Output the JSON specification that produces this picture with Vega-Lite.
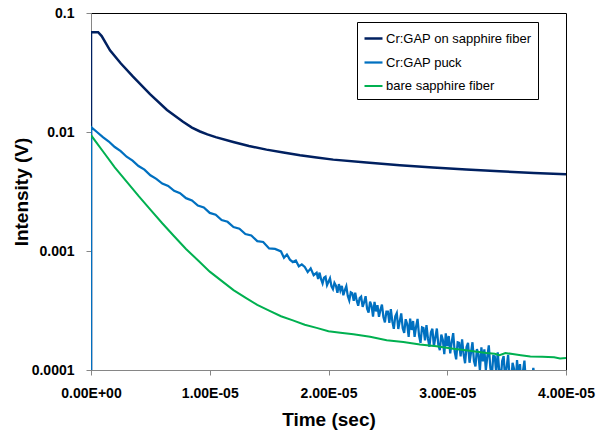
{
  "$schema": "https://vega.github.io/schema/vega-lite/v6.json",
  "width": 475,
  "height": 357,
  "autosize": {"type": "none"},
  "padding": {"left": 91, "top": 13, "right": 39, "bottom": 63},
  "background": "white",
  "view": {"stroke": "#000000", "strokeWidth": 1},
  "config": {"font": "Liberation Sans"},
  "data": {"values": [
    {"s": "Cr:GAP on sapphire fiber", "t": 0, "v": 0.00005},
    {"s": "Cr:GAP on sapphire fiber", "t": 0, "v": 0.069},
    {"s": "Cr:GAP on sapphire fiber", "t": 6e-7, "v": 0.069},
    {"s": "Cr:GAP on sapphire fiber", "t": 9e-7, "v": 0.064},
    {"s": "Cr:GAP on sapphire fiber", "t": 1.6e-6, "v": 0.0486},
    {"s": "Cr:GAP on sapphire fiber", "t": 2.5e-6, "v": 0.0378},
    {"s": "Cr:GAP on sapphire fiber", "t": 3.54e-6, "v": 0.0292},
    {"s": "Cr:GAP on sapphire fiber", "t": 4.97e-6, "v": 0.0208},
    {"s": "Cr:GAP on sapphire fiber", "t": 6.4e-6, "v": 0.0153},
    {"s": "Cr:GAP on sapphire fiber", "t": 7.75e-6, "v": 0.0122},
    {"s": "Cr:GAP on sapphire fiber", "t": 8.5e-6, "v": 0.0109},
    {"s": "Cr:GAP on sapphire fiber", "t": 9.18e-6, "v": 0.0101},
    {"s": "Cr:GAP on sapphire fiber", "t": 9.8e-6, "v": 0.00955},
    {"s": "Cr:GAP on sapphire fiber", "t": 1.05e-5, "v": 0.00906},
    {"s": "Cr:GAP on sapphire fiber", "t": 1.198e-5, "v": 0.00824},
    {"s": "Cr:GAP on sapphire fiber", "t": 1.33e-5, "v": 0.00762},
    {"s": "Cr:GAP on sapphire fiber", "t": 1.478e-5, "v": 0.00711},
    {"s": "Cr:GAP on sapphire fiber", "t": 1.62e-5, "v": 0.00673},
    {"s": "Cr:GAP on sapphire fiber", "t": 1.76e-5, "v": 0.00637},
    {"s": "Cr:GAP on sapphire fiber", "t": 1.9e-5, "v": 0.00611},
    {"s": "Cr:GAP on sapphire fiber", "t": 2.04e-5, "v": 0.00586},
    {"s": "Cr:GAP on sapphire fiber", "t": 2.32e-5, "v": 0.00553},
    {"s": "Cr:GAP on sapphire fiber", "t": 2.6e-5, "v": 0.00525},
    {"s": "Cr:GAP on sapphire fiber", "t": 2.88e-5, "v": 0.00502},
    {"s": "Cr:GAP on sapphire fiber", "t": 3.16e-5, "v": 0.00483},
    {"s": "Cr:GAP on sapphire fiber", "t": 3.44e-5, "v": 0.00467},
    {"s": "Cr:GAP on sapphire fiber", "t": 3.73e-5, "v": 0.00452},
    {"s": "Cr:GAP on sapphire fiber", "t": 4.0e-5, "v": 0.00441},

    {"s": "Cr:GAP puck", "t": 0, "v": 0.00005},
    {"s": "Cr:GAP puck", "t": 0, "v": 0.0110},
    {"s": "Cr:GAP puck", "t": 5e-7, "v": 0.0100},
    {"s": "Cr:GAP puck", "t": 1.0e-6, "v": 0.00905},
    {"s": "Cr:GAP puck", "t": 1.5e-6, "v": 0.00832},
    {"s": "Cr:GAP puck", "t": 2.0e-6, "v": 0.00748},
    {"s": "Cr:GAP puck", "t": 2.5e-6, "v": 0.00690},
    {"s": "Cr:GAP puck", "t": 3.0e-6, "v": 0.00620},
    {"s": "Cr:GAP puck", "t": 3.5e-6, "v": 0.00575},
    {"s": "Cr:GAP puck", "t": 4.0e-6, "v": 0.00518},
    {"s": "Cr:GAP puck", "t": 4.5e-6, "v": 0.00483},
    {"s": "Cr:GAP puck", "t": 5.0e-6, "v": 0.00433},
    {"s": "Cr:GAP puck", "t": 5.5e-6, "v": 0.00404},
    {"s": "Cr:GAP puck", "t": 6.0e-6, "v": 0.00369},
    {"s": "Cr:GAP puck", "t": 6.5e-6, "v": 0.00352},
    {"s": "Cr:GAP puck", "t": 7.0e-6, "v": 0.00320},
    {"s": "Cr:GAP puck", "t": 7.5e-6, "v": 0.00306},
    {"s": "Cr:GAP puck", "t": 8.0e-6, "v": 0.00278},
    {"s": "Cr:GAP puck", "t": 8.5e-6, "v": 0.00266},
    {"s": "Cr:GAP puck", "t": 9.0e-6, "v": 0.00241},
    {"s": "Cr:GAP puck", "t": 9.5e-6, "v": 0.00232},
    {"s": "Cr:GAP puck", "t": 1.0e-5, "v": 0.00209},
    {"s": "Cr:GAP puck", "t": 1.05e-5, "v": 0.00202},
    {"s": "Cr:GAP puck", "t": 1.1e-5, "v": 0.00182},
    {"s": "Cr:GAP puck", "t": 1.15e-5, "v": 0.00176},
    {"s": "Cr:GAP puck", "t": 1.2e-5, "v": 0.00159},
    {"s": "Cr:GAP puck", "t": 1.25e-5, "v": 0.00154},
    {"s": "Cr:GAP puck", "t": 1.3e-5, "v": 0.00139},
    {"s": "Cr:GAP puck", "t": 1.35e-5, "v": 0.00135},
    {"s": "Cr:GAP puck", "t": 1.4e-5, "v": 0.00121},
    {"s": "Cr:GAP puck", "t": 1.45e-5, "v": 0.00119},
    {"s": "Cr:GAP puck", "t": 1.5e-5, "v": 0.00105},
    {"s": "Cr:GAP puck", "t": 1.55e-5, "v": 0.00104},
    {"s": "Cr:GAP puck", "t": 1.6e-5, "v": 0.000991},
    {"s": "Cr:GAP puck", "t": 1.625e-5, "v": 0.000877},
    {"s": "Cr:GAP puck", "t": 1.65e-5, "v": 0.000934},
    {"s": "Cr:GAP puck", "t": 1.675e-5, "v": 0.000846},
    {"s": "Cr:GAP puck", "t": 1.7e-5, "v": 0.000807},
    {"s": "Cr:GAP puck", "t": 1.725e-5, "v": 0.000832},
    {"s": "Cr:GAP puck", "t": 1.75e-5, "v": 0.000743},
    {"s": "Cr:GAP puck", "t": 1.775e-5, "v": 0.000773},
    {"s": "Cr:GAP puck", "t": 1.8e-5, "v": 0.000734},
    {"s": "Cr:GAP puck", "t": 1.825e-5, "v": 0.000665},
    {"s": "Cr:GAP puck", "t": 1.85e-5, "v": 0.000714},
    {"s": "Cr:GAP puck", "t": 1.875e-5, "v": 0.000626},
    {"s": "Cr:GAP puck", "t": 1.9e-5, "v": 0.000656},
    {"s": "Cr:GAP puck", "t": 1.9125e-5, "v": 0.000583},
    {"s": "Cr:GAP puck", "t": 1.925e-5, "v": 0.000658},
    {"s": "Cr:GAP puck", "t": 1.9375e-5, "v": 0.000579},
    {"s": "Cr:GAP puck", "t": 1.95e-5, "v": 0.000534},
    {"s": "Cr:GAP puck", "t": 1.9625e-5, "v": 0.000597},
    {"s": "Cr:GAP puck", "t": 1.975e-5, "v": 0.000609},
    {"s": "Cr:GAP puck", "t": 1.9875e-5, "v": 0.000517},
    {"s": "Cr:GAP puck", "t": 2.0e-5, "v": 0.000552},
    {"s": "Cr:GAP puck", "t": 2.0125e-5, "v": 0.000589},
    {"s": "Cr:GAP puck", "t": 2.025e-5, "v": 0.000505},
    {"s": "Cr:GAP puck", "t": 2.0375e-5, "v": 0.000478},
    {"s": "Cr:GAP puck", "t": 2.05e-5, "v": 0.000540},
    {"s": "Cr:GAP puck", "t": 2.0625e-5, "v": 0.000512},
    {"s": "Cr:GAP puck", "t": 2.075e-5, "v": 0.000446},
    {"s": "Cr:GAP puck", "t": 2.0875e-5, "v": 0.000527},
    {"s": "Cr:GAP puck", "t": 2.1e-5, "v": 0.000466},
    {"s": "Cr:GAP puck", "t": 2.1125e-5, "v": 0.000509},
    {"s": "Cr:GAP puck", "t": 2.125e-5, "v": 0.000425},
    {"s": "Cr:GAP puck", "t": 2.1375e-5, "v": 0.000469},
    {"s": "Cr:GAP puck", "t": 2.15e-5, "v": 0.000506},
    {"s": "Cr:GAP puck", "t": 2.1625e-5, "v": 0.000418},
    {"s": "Cr:GAP puck", "t": 2.175e-5, "v": 0.000384},
    {"s": "Cr:GAP puck", "t": 2.1875e-5, "v": 0.000449},
    {"s": "Cr:GAP puck", "t": 2.2e-5, "v": 0.000441},
    {"s": "Cr:GAP puck", "t": 2.2125e-5, "v": 0.000382},
    {"s": "Cr:GAP puck", "t": 2.225e-5, "v": 0.000447},
    {"s": "Cr:GAP puck", "t": 2.2375e-5, "v": 0.000383},
    {"s": "Cr:GAP puck", "t": 2.25e-5, "v": 0.000347},
    {"s": "Cr:GAP puck", "t": 2.2625e-5, "v": 0.000402},
    {"s": "Cr:GAP puck", "t": 2.275e-5, "v": 0.000414},
    {"s": "Cr:GAP puck", "t": 2.2875e-5, "v": 0.000339},
    {"s": "Cr:GAP puck", "t": 2.3e-5, "v": 0.000371},
    {"s": "Cr:GAP puck", "t": 2.3125e-5, "v": 0.000417},
    {"s": "Cr:GAP puck", "t": 2.325e-5, "v": 0.000328},
    {"s": "Cr:GAP puck", "t": 2.3375e-5, "v": 0.000304},
    {"s": "Cr:GAP puck", "t": 2.35e-5, "v": 0.000375},
    {"s": "Cr:GAP puck", "t": 2.3625e-5, "v": 0.000347},
    {"s": "Cr:GAP puck", "t": 2.375e-5, "v": 0.000281},
    {"s": "Cr:GAP puck", "t": 2.3875e-5, "v": 0.000373},
    {"s": "Cr:GAP puck", "t": 2.4e-5, "v": 0.000311},
    {"s": "Cr:GAP puck", "t": 2.4125e-5, "v": 0.000350},
    {"s": "Cr:GAP puck", "t": 2.425e-5, "v": 0.000280},
    {"s": "Cr:GAP puck", "t": 2.4375e-5, "v": 0.000320},
    {"s": "Cr:GAP puck", "t": 2.45e-5, "v": 0.000354},
    {"s": "Cr:GAP puck", "t": 2.4625e-5, "v": 0.000279},
    {"s": "Cr:GAP puck", "t": 2.475e-5, "v": 0.000251},
    {"s": "Cr:GAP puck", "t": 2.4875e-5, "v": 0.000309},
    {"s": "Cr:GAP puck", "t": 2.5e-5, "v": 0.000309},
    {"s": "Cr:GAP puck", "t": 2.5125e-5, "v": 0.000249},
    {"s": "Cr:GAP puck", "t": 2.525e-5, "v": 0.000324},
    {"s": "Cr:GAP puck", "t": 2.5375e-5, "v": 0.000256},
    {"s": "Cr:GAP puck", "t": 2.55e-5, "v": 0.000222},
    {"s": "Cr:GAP puck", "t": 2.5625e-5, "v": 0.000283},
    {"s": "Cr:GAP puck", "t": 2.575e-5, "v": 0.000301},
    {"s": "Cr:GAP puck", "t": 2.5875e-5, "v": 0.000221},
    {"s": "Cr:GAP puck", "t": 2.6e-5, "v": 0.000257},
    {"s": "Cr:GAP puck", "t": 2.6125e-5, "v": 0.000299},
    {"s": "Cr:GAP puck", "t": 2.625e-5, "v": 0.000224},
    {"s": "Cr:GAP puck", "t": 2.6375e-5, "v": 0.000205},
    {"s": "Cr:GAP puck", "t": 2.65e-5, "v": 0.000267},
    {"s": "Cr:GAP puck", "t": 2.6625e-5, "v": 0.000244},
    {"s": "Cr:GAP puck", "t": 2.675e-5, "v": 0.000190},
    {"s": "Cr:GAP puck", "t": 2.6875e-5, "v": 0.000270},
    {"s": "Cr:GAP puck", "t": 2.7e-5, "v": 0.000217},
    {"s": "Cr:GAP puck", "t": 2.7125e-5, "v": 0.000258},
    {"s": "Cr:GAP puck", "t": 2.725e-5, "v": 0.000190},
    {"s": "Cr:GAP puck", "t": 2.7375e-5, "v": 0.000231},
    {"s": "Cr:GAP puck", "t": 2.75e-5, "v": 0.000269},
    {"s": "Cr:GAP puck", "t": 2.7625e-5, "v": 0.000195},
    {"s": "Cr:GAP puck", "t": 2.775e-5, "v": 0.000169},
    {"s": "Cr:GAP puck", "t": 2.7875e-5, "v": 0.000228},
    {"s": "Cr:GAP puck", "t": 2.8e-5, "v": 0.000225},
    {"s": "Cr:GAP puck", "t": 2.8125e-5, "v": 0.000177},
    {"s": "Cr:GAP puck", "t": 2.825e-5, "v": 0.000238},
    {"s": "Cr:GAP puck", "t": 2.8375e-5, "v": 0.000184},
    {"s": "Cr:GAP puck", "t": 2.85e-5, "v": 0.000157},
    {"s": "Cr:GAP puck", "t": 2.8625e-5, "v": 0.000207},
    {"s": "Cr:GAP puck", "t": 2.875e-5, "v": 0.000222},
    {"s": "Cr:GAP puck", "t": 2.8875e-5, "v": 0.000158},
    {"s": "Cr:GAP puck", "t": 2.9e-5, "v": 0.000188},
    {"s": "Cr:GAP puck", "t": 2.9125e-5, "v": 0.000223},
    {"s": "Cr:GAP puck", "t": 2.925e-5, "v": 0.000162},
    {"s": "Cr:GAP puck", "t": 2.9375e-5, "v": 0.000147},
    {"s": "Cr:GAP puck", "t": 2.95e-5, "v": 0.000198},
    {"s": "Cr:GAP puck", "t": 2.9625e-5, "v": 0.000180},
    {"s": "Cr:GAP puck", "t": 2.975e-5, "v": 0.000136},
    {"s": "Cr:GAP puck", "t": 2.9875e-5, "v": 0.000203},
    {"s": "Cr:GAP puck", "t": 3.0e-5, "v": 0.000159},
    {"s": "Cr:GAP puck", "t": 3.0125e-5, "v": 0.000193},
    {"s": "Cr:GAP puck", "t": 3.025e-5, "v": 0.000138},
    {"s": "Cr:GAP puck", "t": 3.0375e-5, "v": 0.000172},
    {"s": "Cr:GAP puck", "t": 3.05e-5, "v": 0.000204},
    {"s": "Cr:GAP puck", "t": 3.0625e-5, "v": 0.000143},
    {"s": "Cr:GAP puck", "t": 3.075e-5, "v": 0.000123},
    {"s": "Cr:GAP puck", "t": 3.0875e-5, "v": 0.000171},
    {"s": "Cr:GAP puck", "t": 3.1e-5, "v": 0.000169},
    {"s": "Cr:GAP puck", "t": 3.1125e-5, "v": 0.000130},
    {"s": "Cr:GAP puck", "t": 3.125e-5, "v": 0.000181},
    {"s": "Cr:GAP puck", "t": 3.1375e-5, "v": 0.000136},
    {"s": "Cr:GAP puck", "t": 3.15e-5, "v": 0.000114},
    {"s": "Cr:GAP puck", "t": 3.1625e-5, "v": 0.000156},
    {"s": "Cr:GAP puck", "t": 3.175e-5, "v": 0.000169},
    {"s": "Cr:GAP puck", "t": 3.1875e-5, "v": 0.000115},
    {"s": "Cr:GAP puck", "t": 3.2e-5, "v": 0.000140},
    {"s": "Cr:GAP puck", "t": 3.2125e-5, "v": 0.000171},
    {"s": "Cr:GAP puck", "t": 3.225e-5, "v": 0.000119},
    {"s": "Cr:GAP puck", "t": 3.2375e-5, "v": 0.000107},
    {"s": "Cr:GAP puck", "t": 3.25e-5, "v": 0.000150},
    {"s": "Cr:GAP puck", "t": 3.2625e-5, "v": 0.000135},
    {"s": "Cr:GAP puck", "t": 3.275e-5, "v": 0.0000989},
    {"s": "Cr:GAP puck", "t": 3.2875e-5, "v": 0.000155},
    {"s": "Cr:GAP puck", "t": 3.3e-5, "v": 0.000118},
    {"s": "Cr:GAP puck", "t": 3.3125e-5, "v": 0.000149},
    {"s": "Cr:GAP puck", "t": 3.325e-5, "v": 0.000100},
    {"s": "Cr:GAP puck", "t": 3.3375e-5, "v": 0.000130},
    {"s": "Cr:GAP puck", "t": 3.35e-5, "v": 0.000161},
    {"s": "Cr:GAP puck", "t": 3.3625e-5, "v": 0.000105},
    {"s": "Cr:GAP puck", "t": 3.375e-5, "v": 0.0000877},
    {"s": "Cr:GAP puck", "t": 3.3875e-5, "v": 0.000131},
    {"s": "Cr:GAP puck", "t": 3.4e-5, "v": 0.000130},
    {"s": "Cr:GAP puck", "t": 3.4125e-5, "v": 0.0000946},
    {"s": "Cr:GAP puck", "t": 3.425e-5, "v": 0.000141},
    {"s": "Cr:GAP puck", "t": 3.4375e-5, "v": 0.000100},
    {"s": "Cr:GAP puck", "t": 3.45e-5, "v": 0.0000817},
    {"s": "Cr:GAP puck", "t": 3.4625e-5, "v": 0.000119},
    {"s": "Cr:GAP puck", "t": 3.475e-5, "v": 0.000131},
    {"s": "Cr:GAP puck", "t": 3.4875e-5, "v": 0.0000832},
    {"s": "Cr:GAP puck", "t": 3.5e-5, "v": 0.000105},
    {"s": "Cr:GAP puck", "t": 3.5125e-5, "v": 0.000134},
    {"s": "Cr:GAP puck", "t": 3.525e-5, "v": 0.0000871},
    {"s": "Cr:GAP puck", "t": 3.5375e-5, "v": 0.0000771},
    {"s": "Cr:GAP puck", "t": 3.55e-5, "v": 0.000115},
    {"s": "Cr:GAP puck", "t": 3.5625e-5, "v": 0.000102},
    {"s": "Cr:GAP puck", "t": 3.575e-5, "v": 0.0000703},
    {"s": "Cr:GAP puck", "t": 3.5875e-5, "v": 0.000121},
    {"s": "Cr:GAP puck", "t": 3.6e-5, "v": 0.0000881},
    {"s": "Cr:GAP puck", "t": 3.6125e-5, "v": 0.000112},
    {"s": "Cr:GAP puck", "t": 3.625e-5, "v": 0.0000748},
    {"s": "Cr:GAP puck", "t": 3.6375e-5, "v": 0.0000975},
    {"s": "Cr:GAP puck", "t": 3.65e-5, "v": 0.000120},
    {"s": "Cr:GAP puck", "t": 3.6625e-5, "v": 0.0000785},
    {"s": "Cr:GAP puck", "t": 3.675e-5, "v": 0.0000656},
    {"s": "Cr:GAP puck", "t": 3.6875e-5, "v": 0.0000982},
    {"s": "Cr:GAP puck", "t": 3.7e-5, "v": 0.0000700},
    {"s": "Cr:GAP puck", "t": 3.725e-5, "v": 0.000104},
    {"s": "Cr:GAP puck", "t": 3.75e-5, "v": 0.0000650},

    {"s": "bare sapphire fiber", "t": 0, "v": 0.0094},
    {"s": "bare sapphire fiber", "t": 1.0e-6, "v": 0.00689},
    {"s": "bare sapphire fiber", "t": 2.0e-6, "v": 0.00505},
    {"s": "bare sapphire fiber", "t": 3.0e-6, "v": 0.00383},
    {"s": "bare sapphire fiber", "t": 4.0e-6, "v": 0.00290},
    {"s": "bare sapphire fiber", "t": 5.0e-6, "v": 0.00223},
    {"s": "bare sapphire fiber", "t": 6.0e-6, "v": 0.00171},
    {"s": "bare sapphire fiber", "t": 7.0e-6, "v": 0.00133},
    {"s": "bare sapphire fiber", "t": 8.0e-6, "v": 0.00104},
    {"s": "bare sapphire fiber", "t": 9.0e-6, "v": 0.000836},
    {"s": "bare sapphire fiber", "t": 1.0e-5, "v": 0.000671},
    {"s": "bare sapphire fiber", "t": 1.1e-5, "v": 0.000561},
    {"s": "bare sapphire fiber", "t": 1.2e-5, "v": 0.000469},
    {"s": "bare sapphire fiber", "t": 1.3e-5, "v": 0.000406},
    {"s": "bare sapphire fiber", "t": 1.4e-5, "v": 0.000352},
    {"s": "bare sapphire fiber", "t": 1.5e-5, "v": 0.000316},
    {"s": "bare sapphire fiber", "t": 1.6e-5, "v": 0.000283},
    {"s": "bare sapphire fiber", "t": 1.7e-5, "v": 0.000261},
    {"s": "bare sapphire fiber", "t": 1.8e-5, "v": 0.000240},
    {"s": "bare sapphire fiber", "t": 1.9e-5, "v": 0.000226},
    {"s": "bare sapphire fiber", "t": 2.0e-5, "v": 0.000212},
    {"s": "bare sapphire fiber", "t": 2.1e-5, "v": 0.000206},
    {"s": "bare sapphire fiber", "t": 2.21e-5, "v": 0.000200},
    {"s": "bare sapphire fiber", "t": 2.35e-5, "v": 0.000190},
    {"s": "bare sapphire fiber", "t": 2.49e-5, "v": 0.000178},
    {"s": "bare sapphire fiber", "t": 2.63e-5, "v": 0.000172},
    {"s": "bare sapphire fiber", "t": 2.77e-5, "v": 0.000164},
    {"s": "bare sapphire fiber", "t": 2.91e-5, "v": 0.000158},
    {"s": "bare sapphire fiber", "t": 3.05e-5, "v": 0.000151},
    {"s": "bare sapphire fiber", "t": 3.19e-5, "v": 0.000145},
    {"s": "bare sapphire fiber", "t": 3.33e-5, "v": 0.000139},
    {"s": "bare sapphire fiber", "t": 3.4e-5, "v": 0.000137},
    {"s": "bare sapphire fiber", "t": 3.44e-5, "v": 0.000133},
    {"s": "bare sapphire fiber", "t": 3.49e-5, "v": 0.000139},
    {"s": "bare sapphire fiber", "t": 3.55e-5, "v": 0.000136},
    {"s": "bare sapphire fiber", "t": 3.62e-5, "v": 0.000133},
    {"s": "bare sapphire fiber", "t": 3.7e-5, "v": 0.000130},
    {"s": "bare sapphire fiber", "t": 3.8e-5, "v": 0.000129},
    {"s": "bare sapphire fiber", "t": 3.9e-5, "v": 0.000128},
    {"s": "bare sapphire fiber", "t": 3.95e-5, "v": 0.000125},
    {"s": "bare sapphire fiber", "t": 4.0e-5, "v": 0.000126}
  ]},
  "mark": {"type": "line", "clip": true},
  "encoding": {
    "x": {
      "field": "t", "type": "quantitative",
      "scale": {"domain": [0, 4e-5], "nice": false, "zero": false},
      "axis": {
        "values": [0, 1e-5, 2e-5, 3e-5, 4e-5],
        "labelExpr": "replace(replace(upper(format(datum.value, '.2e')), 'E-', 'E-0'), 'E+', 'E+0')",
        "grid": false, "title": "Time (sec)",
        "domainColor": "#868686", "tickColor": "#868686", "tickSize": 5,
        "labelPadding": 11, "labelFontSize": 14, "labelFontWeight": "bold", "labelColor": "black",
        "labelFlush": false, "labelOverlap": false,
        "titleFontSize": 19, "titleFontWeight": "bold", "titleColor": "black",
        "titleBaseline": "alphabetic", "titleY": 55
      }
    },
    "y": {
      "field": "v", "type": "quantitative",
      "scale": {"type": "log", "domain": [0.0001, 0.1], "nice": false},
      "axis": {
        "values": [0.0001, 0.001, 0.01, 0.1],
        "labelExpr": "datum.value > 0.05 ? '0.1' : datum.value > 0.005 ? '0.01' : datum.value > 0.0005 ? '0.001' : '0.0001'",
        "grid": false, "title": "Intensity (V)",
        "domainColor": "#868686", "tickColor": "#868686", "tickSize": 5,
        "labelPadding": 12, "labelFontSize": 14, "labelFontWeight": "bold", "labelColor": "black",
        "labelFlush": false, "labelOverlap": false,
        "titleFontSize": 19, "titleFontWeight": "bold", "titleColor": "black",
        "titleBaseline": "alphabetic", "titleAngle": -90, "titleAlign": "center",
        "titleX": -64, "titleY": 178.5
      }
    },
    "color": {
      "field": "s", "type": "nominal",
      "scale": {
        "domain": ["Cr:GAP on sapphire fiber", "Cr:GAP puck", "bare sapphire fiber"],
        "range": ["#002060", "#0070C0", "#00B050"]
      },
      "legend": {
        "orient": "none", "legendX": 266, "legendY": 9, "title": null,
        "symbolType": "stroke", "symbolSize": 324, "symbolStrokeWidth": 2.5,
        "labelFontSize": 13, "labelColor": "black", "labelOffset": 2,
        "strokeColor": "black", "fillColor": "white", "padding": 6, "rowPadding": 6
      }
    },
    "strokeWidth": {
      "field": "s", "type": "nominal",
      "scale": {
        "domain": ["Cr:GAP on sapphire fiber", "Cr:GAP puck", "bare sapphire fiber"],
        "range": [2.5, 2, 2]
      },
      "legend": null
    }
  }
}
